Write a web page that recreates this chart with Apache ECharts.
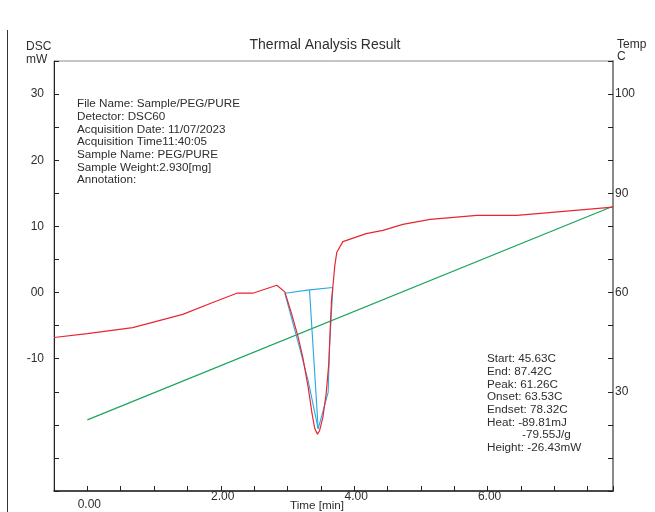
<!DOCTYPE html>
<html>
<head>
<meta charset="utf-8">
<title>Thermal Analysis Result</title>
<script src="https://cdn.jsdelivr.net/npm/echarts@6/dist/echarts.min.js"></script>
<style>
  html, body { margin: 0; padding: 0; background: #fff; }
  #chart { width: 655px; height: 512px; }
</style>
</head>
<body>
<div id="chart"></div>
<script>
// DSC heat flow curve (time in min, heat flow in mW)
const dscTime  = [-0.5, 0.0, 0.68, 1.43, 1.88, 2.24, 2.48, 2.84, 2.96, 3.06, 3.16, 3.23, 3.31, 3.37, 3.41, 3.45, 3.48, 3.53, 3.58, 3.62, 3.64, 3.66, 3.69, 3.71, 3.74, 3.83, 4.18, 4.43, 4.73, 5.14, 5.84, 6.44, 7.88];
const dscValue = [-6.8, -6.2, -5.3, -3.3, -1.5, -0.1, -0.1, 1.1, 0.1, -3.15, -6.75, -9.8, -14.3, -18.4, -20.6, -21.4, -20.9, -18.9, -15.3, -10.7, -5.7, -1.2, 1.9, 4.1, 6.1, 7.7, 8.9, 9.4, 10.3, 11.05, 11.65, 11.65, 12.9];

// Sample temperature (C)
const tempTime  = [0, 7.88];
const tempValue = [21.5, 86.1];

// Peak analysis construction lines
const baseTime     = [2.96, 3.33, 3.68];
const baseValue    = [-0.1, 0.4, 0.75];
const outlineTime  = [2.96, 3.18, 3.31, 3.46, 3.61, 3.63, 3.68];
const outlineValue = [-0.1, -8.3, -13.3, -20.6, -15.1, -8.3, 0.75];
const dropTime     = [3.33, 3.46];
const dropValue    = [0.4, -20.6];

// Tick labels
const timeTickValues = [0, 2, 4, 6];
const timeTickText   = ['0.00', '2.00', '4.00', '6.00'];
const dscTickValues  = [30, 20, 10, 0, -10];
const dscTickText    = ['30', '20', '10', '00', '-10'];
const tempTickValues = [120, 90, 60, 30];
const tempTickText   = ['100', '90', '60', '30'];

// Text blocks
const infoLines = [
  'File Name: Sample/PEG/PURE',
  'Detector: DSC60',
  'Acquisition Date: 11/07/2023',
  'Acquisition Time11:40:05',
  'Sample Name: PEG/PURE',
  'Sample Weight:2.930[mg]',
  'Annotation:'
];
const resultLines = [
  ['Start: 45.63C', 0],
  ['End: 87.42C', 0],
  ['Peak: 61.26C', 0],
  ['Onset: 63.53C', 0],
  ['Endset: 78.32C', 0],
  ['Heat: -89.81mJ', 0],
  ['-79.55J/g', 35],
  ['Height: -26.43mW', 0]
];

const FONT = '"Liberation Sans", Arial, sans-serif';
const TXT = '#2e2e2e';
const BODY = '11.7px ' + FONT;

function pairs(xs, ys) { return xs.map((x, i) => [x, ys[i]]); }
function lookup(values, texts, v) {
  for (let i = 0; i < values.length; i++) {
    if (Math.abs(values[i] - v) < 1e-6) return texts[i];
  }
  return '';
}

const chart = echarts.init(document.getElementById('chart'), null, { renderer: 'canvas' });

const graphics = [
  { type: 'line', shape: { x1: 7.5, y1: 30, x2: 7.5, y2: 512 }, style: { stroke: '#333', lineWidth: 1 } },
  { type: 'text', x: 325, y: 45, style: { text: 'Thermal Analysis Result', font: '14px ' + FONT, fill: TXT, textAlign: 'center', textVerticalAlign: 'middle' } },
  { type: 'text', x: 26, y: 47, style: { text: 'DSC', font: '12px ' + FONT, fill: TXT, textVerticalAlign: 'middle' } },
  { type: 'text', x: 26, y: 60, style: { text: 'mW', font: '12px ' + FONT, fill: TXT, textVerticalAlign: 'middle' } },
  { type: 'text', x: 617, y: 45, style: { text: 'Temp', font: '12px ' + FONT, fill: TXT, textVerticalAlign: 'middle' } },
  { type: 'text', x: 617, y: 57, style: { text: 'C', font: '12px ' + FONT, fill: TXT, textVerticalAlign: 'middle' } },
  { type: 'text', x: 317, y: 506, style: { text: 'Time [min]', font: BODY, fill: TXT, textAlign: 'center', textVerticalAlign: 'middle' } }
];
infoLines.forEach((t, i) => {
  graphics.push({ type: 'text', x: 77, y: 104 + i * 12.7, style: { text: t, font: BODY, fill: TXT, textVerticalAlign: 'middle' } });
});
resultLines.forEach((r, i) => {
  graphics.push({ type: 'text', x: 487 + r[1], y: 359 + i * 12.7, style: { text: r[0], font: BODY, fill: TXT, textVerticalAlign: 'middle' } });
});

const option = {
  animation: false,
  backgroundColor: '#fff',
  grid: { left: 54, right: 42, top: 61, bottom: 21, show: true, borderColor: '#8a8a8a', borderWidth: 1, backgroundColor: 'transparent' },
  xAxis: {
    type: 'value', min: -0.5, max: 7.88, interval: 0.5,
    axisLine: { onZero: false, lineStyle: { color: '#222', width: 1.5 } },
    axisTick: { inside: true, length: 5, lineStyle: { color: '#222' } },
    splitLine: { show: false },
    axisLabel: {
      margin: 0, fontFamily: FONT, fontSize: 12, color: TXT, showMinLabel: true, showMaxLabel: true,
      formatter: v => {
        const t = lookup(timeTickValues, timeTickText, v);
        if (!t) return '';
        return v === 0 ? '{low|' + t + '}' : '{n|' + t + '}';
      },
      rich: {
        low: { fontFamily: FONT, fontSize: 12, color: TXT, padding: [8, 0, 0, 4] },
        n: { fontFamily: FONT, fontSize: 12, color: TXT, padding: [0, 0, 0, 4] }
      }
    }
  },
  yAxis: [
    {
      type: 'value', min: -30, max: 35, interval: 5, position: 'left',
      axisLine: { show: true, onZero: false, lineStyle: { color: '#222', width: 1 } },
      axisTick: { show: true, inside: true, length: 5, lineStyle: { color: '#222' } },
      splitLine: { show: false },
      axisLabel: { margin: 10, fontFamily: FONT, fontSize: 12, color: TXT, formatter: v => lookup(dscTickValues, dscTickText, v) }
    },
    {
      type: 'value', min: 0, max: 130, interval: 10, position: 'right',
      axisLine: { show: true, onZero: false, lineStyle: { color: '#8a8a8a', width: 2 } },
      axisTick: { show: true, inside: true, length: 5, lineStyle: { color: '#222' } },
      splitLine: { show: false },
      axisLabel: { margin: 2, fontFamily: FONT, fontSize: 12, color: TXT, formatter: v => lookup(tempTickValues, tempTickText, v) }
    }
  ],
  graphic: graphics,
  series: [
    { name: 'Temp', type: 'line', yAxisIndex: 1, data: pairs(tempTime, tempValue), symbol: 'none', lineStyle: { color: '#19a55b', width: 1.2 } },
    { name: 'Baseline', type: 'line', yAxisIndex: 0, data: pairs(baseTime, baseValue), symbol: 'none', lineStyle: { color: '#2aa9e0', width: 1.1 } },
    { name: 'Peak', type: 'line', yAxisIndex: 0, data: pairs(outlineTime, outlineValue), symbol: 'none', lineStyle: { color: '#2aa9e0', width: 1.1 } },
    { name: 'Drop', type: 'line', yAxisIndex: 0, data: pairs(dropTime, dropValue), symbol: 'none', lineStyle: { color: '#2aa9e0', width: 1.1 } },
    { name: 'DSC', type: 'line', yAxisIndex: 0, data: pairs(dscTime, dscValue), symbol: 'none', lineStyle: { color: '#e8262f', width: 1.2 }, z: 3 }
  ]
};

chart.setOption(option);
</script>
</body>
</html>
